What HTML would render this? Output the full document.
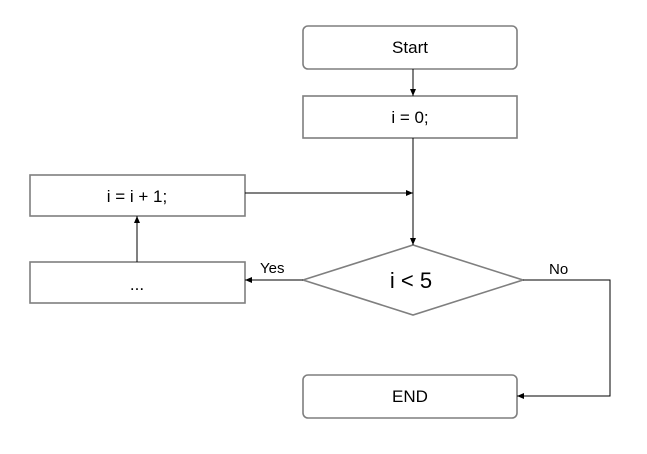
<!DOCTYPE html>
<html><head><style>
html,body{margin:0;padding:0;background:#fff;overflow:hidden;}
svg{display:block;}
text{font-family:"Liberation Sans",sans-serif;fill:#000;}
</style></head><body>
<svg width="647" height="454" viewBox="0 0 647 454" xmlns="http://www.w3.org/2000/svg">
<defs><marker id="a" markerWidth="8" markerHeight="8" refX="7" refY="4" orient="auto" markerUnits="userSpaceOnUse"><path d="M0,1 L7,4 L0,7 z" fill="#000"/></marker></defs>
<g fill="#fff" stroke="#7f7f7f" stroke-width="1.6">
<rect x="303" y="26" width="214" height="43" rx="5"/>
<rect x="303" y="96" width="214" height="42"/>
<rect x="30" y="175" width="215" height="41"/>
<rect x="30" y="262" width="215" height="41"/>
<polygon points="303,280 413,245 523,280 413,315"/>
<rect x="303" y="375" width="214" height="43" rx="5"/>
</g>
<g stroke="#000" stroke-width="1" fill="none">
<line x1="413" y1="69" x2="413" y2="96" marker-end="url(#a)"/>
<line x1="413" y1="138" x2="413" y2="245" marker-end="url(#a)"/>
<line x1="245" y1="193" x2="413" y2="193" marker-end="url(#a)"/>
<line x1="137" y1="262" x2="137" y2="216" marker-end="url(#a)"/>
<line x1="303" y1="280" x2="245" y2="280" marker-end="url(#a)"/>
<polyline points="523,280 610,280 610,396 517,396" marker-end="url(#a)"/>
</g>
<g font-size="17" text-anchor="middle">
<text x="410" y="53">Start</text>
<text x="410" y="123">i = 0;</text>
<text x="137" y="202">i = i + 1;</text>
<text x="137" y="290">...</text>
<text x="410" y="402">END</text>
<text x="411" y="288" font-size="22">i &lt; 5</text>
</g>
<text x="260" y="273" font-size="15">Yes</text>
<text x="549" y="274" font-size="15">No</text>
</svg>
</body></html>
